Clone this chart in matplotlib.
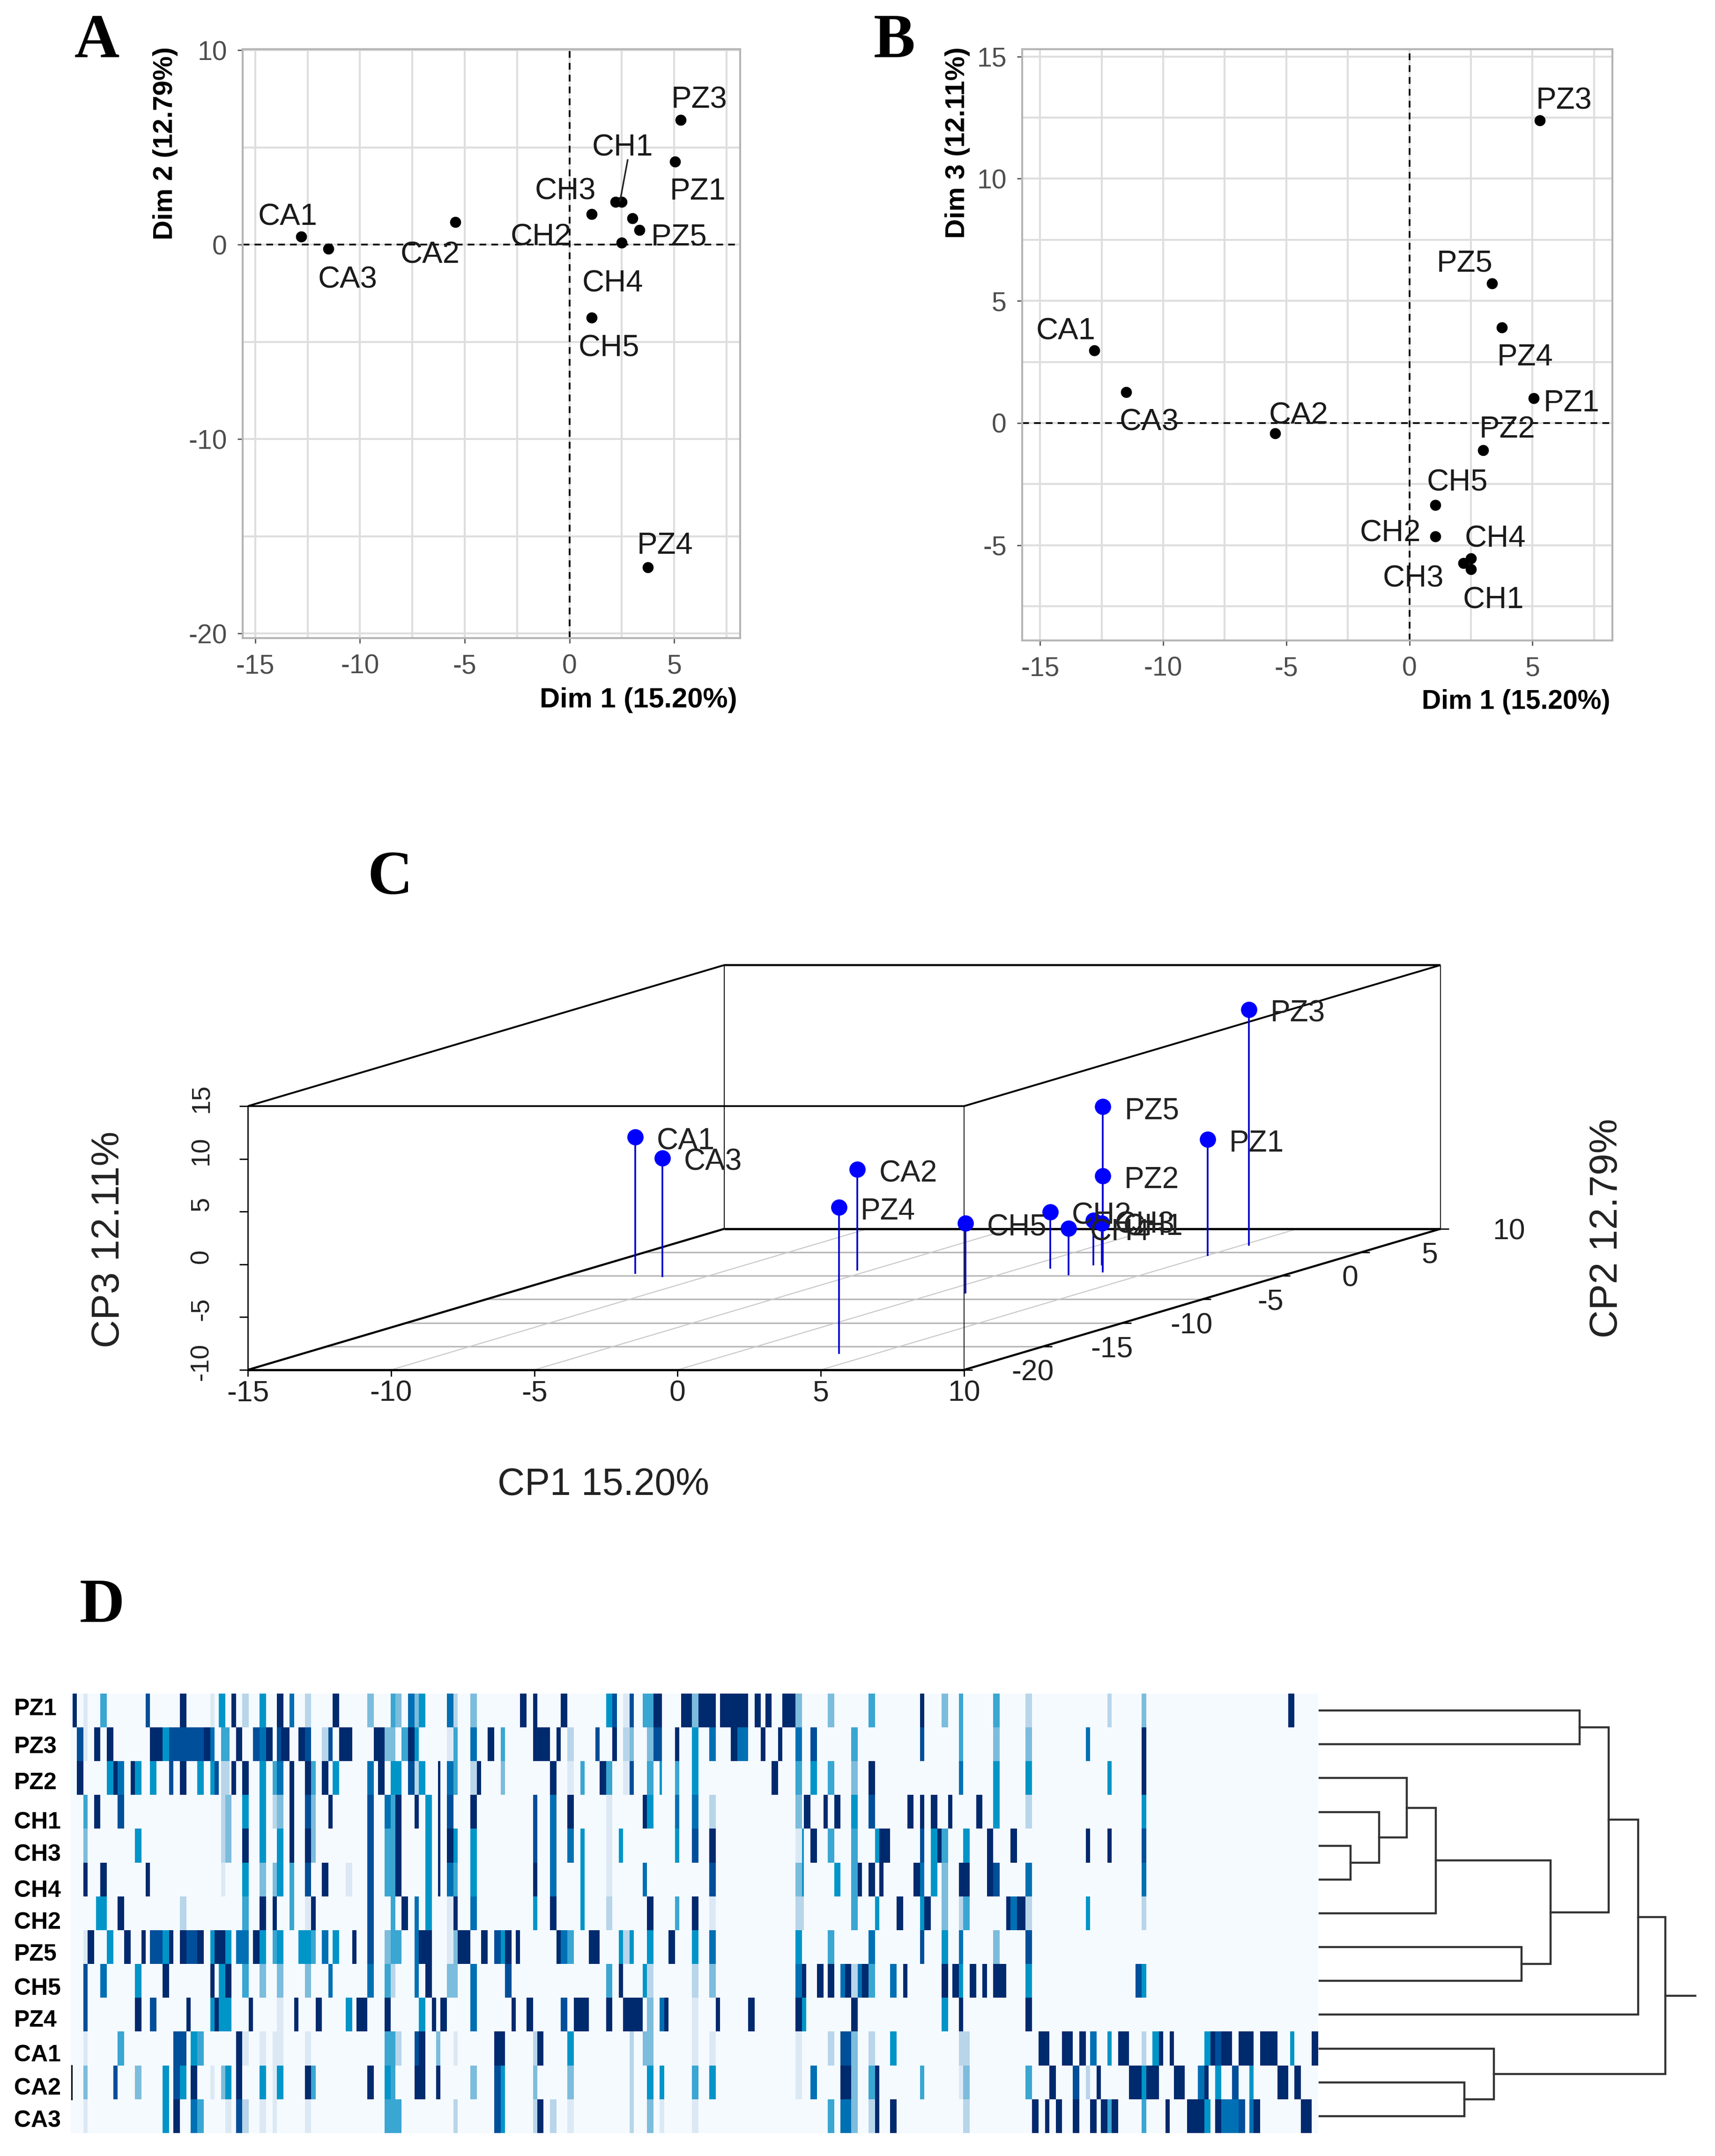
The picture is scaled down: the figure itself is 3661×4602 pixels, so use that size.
import matplotlib

matplotlib.use('agg')
import matplotlib.pyplot as plt
from matplotlib.colors import ListedColormap
import numpy as np

plt.rcParams['font.family'] = ['Liberation Sans', 'DejaVu Sans']
plt.rcParams['axes.unicode_minus'] = False

# samples, same order in every array
SAMPLES = ['CA1', 'CA2', 'CA3', 'CH1', 'CH2', 'CH3', 'CH4', 'CH5',
           'PZ1', 'PZ2', 'PZ3', 'PZ4', 'PZ5']
DIM1 = [-12.8, -5.45, -11.5, 2.5, 1.05, 2.2, 2.5, 1.05, 5.05, 3.0, 5.3, 3.75, 3.35]
DIM2 = [0.42, 1.16, -0.22, 2.2, 1.57, 2.2, 0.1, -3.76, 4.26, 1.35, 6.42, -16.6, 0.74]
DIM3 = [2.97, -0.43, 1.27, -5.99, -4.64, -5.73, -5.54, -3.35, 1.02, -1.12, 12.39, 3.91, 5.71]

LABELS_A = {'CA1': (-13.4, 1.55), 'CA3': (-10.54, -1.67), 'CA2': (-6.6, -0.39),
            'CH2': (-1.32, 0.52), 'CH3': (-0.14, 2.87), 'CH1': (2.58, 5.12),
            'PZ3': (6.23, 7.58), 'PZ1': (6.16, 2.87), 'PZ5': (5.27, 0.52),
            'CH4': (2.1, -1.87), 'CH5': (1.92, -5.19), 'PZ4': (4.6, -15.35)}
LABELS_B = {'PZ3': (6.31, 13.3), 'PZ5': (2.29, 6.65), 'CA1': (-13.92, 3.86),
            'PZ4': (4.74, 2.8), 'PZ1': (6.62, 0.92), 'PZ2': (4.02, -0.16),
            'CA3': (-10.54, 0.14), 'CA2': (-4.47, 0.41), 'CH5': (1.98, -2.33),
            'CH2': (-0.74, -4.4), 'CH4': (3.53, -4.64), 'CH3': (0.19, -6.26),
            'CH1': (3.46, -7.14)}

# heatmap rows: (first column, end column, colour level)
PZ1_CELLS = [(1, 3, 8), (6, 8, 1), (14, 17, 4), (35, 37, 7), (51, 54, 8), (65, 67, 1), (69, 72, 5),
             (75, 77, 8), (80, 83, 2), (88, 91, 5), (96, 99, 8), (102, 104, 6), (109, 112, 2),
             (122, 125, 8), (138, 141, 3), (149, 151, 4), (151, 154, 3), (157, 160, 6), (160, 162, 3),
             (162, 165, 5), (175, 178, 6), (178, 180, 2), (186, 189, 3), (209, 212, 8), (215, 217, 8),
             (228, 231, 8), (249, 252, 5), (252, 254, 7), (257, 260, 1), (260, 262, 7), (266, 271, 4),
             (271, 275, 8), (284, 289, 8), (289, 292, 3), (292, 300, 8), (302, 315, 8), (318, 321, 8),
             (323, 326, 8), (331, 337, 8), (337, 340, 3), (352, 355, 3), (371, 374, 4), (395, 397, 8),
             (405, 408, 3), (413, 415, 4), (429, 432, 4), (444, 447, 2), (482, 484, 2), (498, 500, 3),
             (566, 569, 8)]
PZ3_CELLS = [(3, 6, 7), (6, 8, 1), (11, 14, 8), (17, 20, 8), (37, 43, 8), (43, 46, 5), (46, 62, 7),
             (62, 65, 8), (65, 67, 6), (70, 74, 4), (77, 80, 8), (85, 88, 7), (88, 91, 6), (91, 94, 8),
             (96, 98, 7), (98, 102, 8), (106, 109, 8), (109, 112, 7), (117, 120, 2), (120, 122, 7),
             (125, 131, 8), (141, 146, 8), (146, 151, 3), (154, 157, 4), (157, 160, 8), (160, 162, 5),
             (175, 178, 1), (178, 180, 4), (186, 189, 6), (194, 197, 8), (200, 202, 4), (215, 223, 8),
             (226, 228, 8), (231, 234, 2), (244, 246, 7), (252, 254, 8), (257, 260, 2), (260, 262, 3),
             (268, 271, 3), (271, 275, 7), (281, 283, 8), (289, 292, 5), (297, 300, 6), (307, 310, 8),
             (310, 315, 6), (321, 323, 8), (329, 331, 8), (337, 340, 6), (344, 347, 7), (363, 366, 4),
             (395, 397, 7), (413, 415, 4), (429, 432, 3), (444, 447, 3), (472, 474, 6), (498, 500, 8)]
PZ2_CELLS = [(3, 6, 8), (17, 20, 5), (20, 22, 8), (22, 25, 6), (28, 30, 8), (30, 33, 5), (37, 40, 5),
             (46, 48, 7), (51, 54, 8), (59, 62, 5), (65, 67, 5), (67, 69, 7), (70, 74, 2), (75, 77, 8),
             (80, 83, 8), (88, 91, 5), (94, 96, 4), (96, 99, 6), (102, 104, 8), (109, 112, 8),
             (112, 114, 4), (117, 120, 8), (122, 125, 5), (138, 141, 6), (143, 146, 8), (149, 154, 5),
             (157, 160, 7), (160, 162, 2), (162, 165, 5), (171, 172, 8), (175, 178, 6), (178, 180, 4),
             (186, 189, 2), (189, 191, 8), (200, 202, 3), (223, 226, 8), (231, 234, 1), (237, 239, 4),
             (246, 249, 8), (249, 252, 4), (257, 260, 1), (260, 262, 7), (268, 271, 4), (274, 275, 5),
             (281, 283, 4), (289, 292, 5), (326, 329, 8), (337, 340, 4), (344, 347, 5), (352, 355, 4),
             (363, 366, 3), (371, 374, 8), (413, 415, 6), (429, 432, 5), (444, 447, 5), (482, 484, 5),
             (498, 500, 8)]
CH1_CELLS = [(6, 8, 4), (11, 14, 8), (22, 25, 7), (70, 72, 2), (72, 75, 3), (80, 83, 5), (88, 91, 5),
             (94, 96, 2), (96, 99, 3), (102, 104, 8), (109, 112, 7), (112, 114, 3), (120, 122, 8),
             (138, 141, 7), (146, 149, 6), (149, 151, 4), (151, 154, 8), (160, 162, 8), (165, 168, 5),
             (171, 172, 8), (175, 178, 7), (186, 189, 8), (215, 217, 7), (223, 226, 6), (231, 234, 8),
             (249, 252, 1), (266, 268, 8), (268, 271, 5), (281, 283, 6), (289, 292, 6), (297, 300, 2),
             (337, 340, 3), (341, 344, 8), (350, 352, 8), (355, 358, 8), (363, 366, 5), (371, 374, 7),
             (389, 392, 8), (395, 397, 8), (400, 403, 8), (408, 410, 8), (421, 424, 8), (429, 432, 5),
             (444, 447, 2), (498, 500, 5)]
CH3_CELLS = [(6, 8, 3), (30, 33, 5), (70, 72, 2), (72, 75, 3), (80, 83, 8), (88, 91, 5), (96, 99, 5),
             (102, 104, 8), (109, 112, 8), (112, 114, 3), (138, 141, 7), (146, 151, 4), (151, 154, 8),
             (165, 168, 5), (171, 172, 8), (175, 178, 8), (178, 180, 5), (186, 189, 5), (215, 217, 7),
             (223, 226, 6), (231, 234, 6), (237, 239, 5), (249, 252, 1), (255, 257, 5), (281, 283, 5),
             (289, 292, 7), (297, 300, 8), (337, 340, 1), (340, 341, 5), (344, 347, 8), (352, 355, 4),
             (363, 366, 4), (374, 376, 5), (376, 381, 8), (395, 397, 7), (400, 403, 5), (403, 405, 8),
             (405, 408, 4), (415, 418, 5), (426, 429, 8), (437, 440, 8), (472, 474, 8), (482, 484, 8),
             (498, 500, 7)]
CH4_CELLS = [(6, 8, 8), (14, 17, 8), (35, 37, 8), (70, 72, 1), (80, 83, 5), (88, 91, 3), (94, 96, 3),
             (96, 99, 5), (102, 104, 4), (109, 112, 7), (117, 120, 8), (128, 131, 1), (138, 141, 7),
             (146, 151, 4), (151, 154, 8), (165, 168, 5), (171, 172, 8), (175, 178, 6), (178, 180, 4),
             (186, 189, 5), (215, 217, 8), (223, 226, 6), (237, 239, 5), (249, 252, 1), (266, 268, 6),
             (297, 300, 7), (337, 340, 3), (340, 341, 5), (355, 358, 5), (363, 366, 4), (366, 368, 8),
             (371, 374, 8), (376, 378, 8), (392, 395, 8), (395, 397, 6), (400, 403, 5), (405, 408, 3),
             (413, 418, 8), (426, 429, 8), (429, 432, 7), (444, 447, 6), (498, 500, 6)]
CH2_CELLS = [(12, 17, 5), (22, 25, 8), (51, 54, 2), (80, 83, 4), (88, 91, 8), (94, 96, 8), (102, 104, 4),
             (109, 112, 1), (112, 114, 8), (138, 141, 7), (149, 151, 4), (154, 157, 8), (160, 162, 6),
             (165, 168, 5), (175, 178, 1), (178, 180, 8), (186, 189, 6), (215, 217, 5), (223, 226, 8),
             (237, 239, 5), (249, 252, 2), (268, 271, 8), (281, 283, 4), (289, 292, 8), (297, 300, 1),
             (337, 341, 2), (363, 366, 4), (374, 376, 5), (384, 387, 8), (395, 397, 5), (397, 400, 8),
             (405, 408, 3), (413, 415, 2), (415, 418, 4), (435, 437, 8), (437, 440, 6), (440, 444, 8),
             (444, 447, 2), (472, 474, 5), (498, 500, 2)]
PZ5_CELLS = [(6, 8, 1), (8, 11, 8), (17, 20, 5), (25, 28, 8), (33, 35, 8), (37, 43, 7), (43, 46, 5),
             (46, 48, 8), (51, 54, 8), (54, 59, 7), (59, 62, 8), (65, 67, 5), (67, 72, 8), (72, 75, 5),
             (77, 83, 6), (85, 88, 8), (88, 91, 5), (94, 96, 4), (96, 99, 5), (106, 112, 5), (112, 114, 4),
             (117, 120, 6), (122, 125, 5), (131, 133, 8), (138, 141, 7), (146, 149, 3), (149, 154, 4),
             (160, 162, 6), (162, 168, 8), (175, 178, 1), (178, 180, 3), (180, 186, 8), (191, 194, 8),
             (197, 200, 7), (200, 202, 5), (202, 205, 8), (207, 209, 8), (226, 228, 8), (228, 231, 6),
             (231, 234, 4), (241, 246, 8), (255, 257, 5), (257, 260, 2), (260, 262, 5), (268, 271, 5),
             (278, 281, 8), (289, 292, 5), (297, 300, 6), (337, 340, 5), (352, 355, 4), (371, 374, 6),
             (395, 397, 7), (405, 408, 5), (413, 415, 6), (429, 432, 3), (444, 447, 7)]
CH5_CELLS = [(6, 8, 7), (14, 17, 6), (30, 33, 5), (43, 46, 8), (65, 67, 8), (69, 72, 5), (72, 75, 8),
             (80, 83, 4), (88, 91, 3), (96, 99, 3), (109, 112, 3), (120, 122, 6), (138, 141, 6),
             (146, 149, 4), (149, 151, 2), (160, 162, 6), (165, 168, 8), (175, 180, 3), (186, 189, 6),
             (202, 205, 7), (249, 252, 4), (255, 257, 8), (266, 268, 5), (268, 271, 2), (289, 292, 2),
             (297, 300, 3), (337, 340, 6), (340, 342, 8), (347, 350, 8), (352, 355, 8), (358, 360, 6),
             (360, 363, 8), (363, 366, 2), (366, 368, 6), (368, 371, 8), (371, 374, 4), (381, 384, 6),
             (387, 389, 8), (405, 408, 8), (410, 413, 8), (413, 415, 5), (418, 421, 8), (424, 426, 8),
             (429, 435, 8), (444, 447, 5), (495, 498, 7), (498, 500, 5)]
PZ4_CELLS = [(6, 8, 7), (30, 33, 8), (37, 40, 7), (54, 56, 8), (65, 67, 5), (67, 69, 8), (69, 75, 5),
             (83, 85, 8), (96, 99, 1), (104, 106, 8), (114, 117, 8), (128, 131, 5), (133, 138, 8),
             (146, 149, 8), (162, 165, 5), (168, 170, 8), (172, 175, 8), (186, 189, 6), (205, 207, 8),
             (212, 215, 8), (228, 231, 7), (234, 241, 8), (249, 252, 8), (257, 266, 8), (268, 271, 3),
             (274, 276, 6), (276, 278, 8), (289, 292, 1), (300, 302, 8), (315, 318, 8), (337, 340, 8),
             (340, 342, 5), (363, 366, 8), (405, 408, 5), (413, 415, 8), (444, 447, 8)]
CA1_CELLS = [(6, 8, 1), (22, 25, 4), (48, 54, 7), (56, 59, 5), (59, 62, 4), (77, 80, 8), (80, 83, 1),
             (88, 91, 1), (94, 99, 1), (109, 112, 1), (146, 151, 4), (151, 154, 2), (160, 162, 7),
             (162, 165, 8), (170, 172, 3), (178, 180, 1), (197, 202, 8), (215, 217, 2), (217, 220, 8),
             (231, 234, 5), (260, 262, 2), (266, 271, 3), (289, 292, 1), (297, 300, 1), (337, 340, 1),
             (352, 355, 2), (358, 363, 7), (363, 366, 3), (371, 374, 2), (381, 384, 5), (413, 418, 2),
             (450, 455, 8), (461, 466, 8), (469, 472, 8), (474, 477, 6), (482, 484, 5), (487, 492, 8),
             (498, 500, 2), (503, 506, 5), (506, 508, 8), (511, 513, 8), (527, 530, 5), (530, 532, 8),
             (532, 535, 7), (535, 540, 8), (543, 550, 8), (553, 561, 8), (567, 569, 5), (577, 580, 8)]
CA2_CELLS = [(6, 8, 3), (20, 22, 7), (30, 33, 3), (43, 46, 5), (48, 51, 7), (51, 54, 5), (56, 59, 8),
             (65, 67, 1), (70, 72, 3), (72, 75, 5), (77, 80, 8), (88, 91, 5), (94, 96, 1), (96, 99, 5),
             (109, 112, 8), (112, 114, 4), (138, 141, 8), (146, 149, 5), (149, 151, 4), (160, 165, 8),
             (170, 172, 8), (186, 189, 3), (197, 200, 7), (200, 202, 5), (215, 217, 3), (231, 234, 3),
             (260, 262, 2), (268, 271, 5), (274, 276, 5), (289, 292, 4), (297, 300, 5), (337, 340, 1),
             (344, 347, 6), (358, 363, 8), (363, 366, 3), (371, 374, 4), (374, 376, 8), (395, 397, 4),
             (413, 415, 1), (415, 418, 3), (444, 447, 4), (455, 458, 8), (466, 469, 7), (472, 474, 2),
             (477, 479, 8), (492, 498, 8), (498, 500, 5), (500, 506, 8), (513, 518, 8), (524, 527, 6),
             (527, 529, 8), (532, 535, 5), (540, 543, 7), (548, 550, 5), (561, 566, 8), (569, 572, 8)]
CA3_CELLS = [(6, 8, 1), (43, 46, 5), (48, 51, 8), (56, 59, 6), (59, 62, 4), (72, 75, 1), (77, 80, 7),
             (80, 83, 2), (88, 91, 1), (94, 96, 1), (109, 112, 1), (146, 154, 4), (178, 180, 2),
             (197, 200, 7), (200, 202, 5), (215, 217, 2), (217, 220, 8), (223, 226, 2), (231, 234, 1),
             (260, 262, 2), (268, 271, 3), (274, 276, 1), (289, 292, 1), (352, 355, 4), (358, 363, 6),
             (363, 366, 3), (371, 374, 2), (374, 376, 8), (381, 384, 8), (415, 418, 2), (447, 450, 8),
             (453, 455, 8), (458, 461, 8), (466, 469, 8), (474, 477, 8), (479, 482, 8), (482, 484, 4),
             (484, 487, 8), (498, 500, 4), (509, 511, 8), (519, 527, 8), (527, 530, 5), (532, 535, 8),
             (535, 543, 6), (543, 546, 7), (548, 550, 6), (550, 553, 8), (572, 577, 8)]

HEAT_LABELS = ['PZ1', 'PZ3', 'PZ2', 'CH1', 'CH3', 'CH4', 'CH2', 'PZ5', 'CH5', 'PZ4', 'CA1', 'CA2', 'CA3']
HEAT_ROWS = [PZ1_CELLS, PZ3_CELLS, PZ2_CELLS, CH1_CELLS, CH3_CELLS, CH4_CELLS, CH2_CELLS,
             PZ5_CELLS, CH5_CELLS, PZ4_CELLS, CA1_CELLS, CA2_CELLS, CA3_CELLS]
N_COLS = 580
HEAT_COLOURS = ['#F5FAFF', '#DCE9F5', '#B8D5EA', '#7CBCDC', '#3AA6D2',
                '#0095C8', '#0070B4', '#004F9A', '#002A6E']

# dendrogram merges on the rows above: (left node, right node, height).
# nodes 0-12 are the rows, each merge makes the next node
MERGES = [(0, 1, 8.20), (4, 5, 0.97), (3, 14, 1.87), (2, 15, 2.75), (16, 6, 3.66), (7, 8, 6.37),
          (17, 18, 7.28), (13, 19, 9.12), (20, 9, 10.05), (11, 12, 4.57), (10, 22, 5.50), (21, 23, 10.90)]
ROOT_STUB = 11.85

W, H = 3661, 4602
fig = plt.figure(figsize=(W / 100, H / 100), dpi=100)
fig.patch.set_facecolor('white')


def axes_px(left, top, right, bottom):
    return fig.add_axes([left / W, 1 - bottom / H, (right - left) / W, (bottom - top) / H])


# page level axes in pixels, for the loose text
page = fig.add_axes([0, 0, 1, 1], zorder=5)
page.set_xlim(0, W)
page.set_ylim(H, 0)
page.axis('off')
page.patch.set_alpha(0)


def factor_map(ax, yvals, xlim, ylim, xmajor, ymajor, xminor, yminor, labels):
    ax.set_xlim(*xlim)
    ax.set_ylim(*ylim)
    ax.set_xticks(xmajor)
    ax.set_yticks(ymajor)
    ax.set_xticks(xminor, minor=True)
    ax.set_yticks(yminor, minor=True)
    ax.grid(which='both', color='#DEDEDE', lw=3.0)
    ax.set_axisbelow(True)
    ax.tick_params(which='minor', length=0)
    ax.tick_params(which='major', length=8, width=2, color='#555555', labelcolor='#4D4D4D',
                   labelsize=41, pad=16)
    for s in ax.spines.values():
        s.set_color('#B5B5B5')
        s.set_linewidth(3.0)
    ax.axhline(0, color='black', lw=2.6, ls=(0, (4, 3)))
    ax.axvline(0, color='black', lw=2.6, ls=(0, (4, 3)))
    ax.plot(DIM1, yvals, 'o', color='black', ms=17, mec='none')
    for name, (tx, ty) in labels.items():
        ax.annotate(name, (tx, ty), xytext=(-2, -6), textcoords='offset pixels', fontsize=47,
                    color='#1A1A1A', ha='center', va='center')


ax_a = axes_px(518, 105, 1580, 1362)
factor_map(ax_a, DIM2, (-15.6, 8.15), (-20.24, 10.05), [-15, -10, -5, 0, 5], [-20, -10, 0, 10],
           np.arange(-12.5, 8, 5), [-15, -5, 5], LABELS_A)
ax_a.plot([2.78, 2.42], [4.35, 2.26], color='#222222', lw=2.4)

ax_b = axes_px(2182, 105, 3442, 1367)
factor_map(ax_b, DIM3, (-15.73, 8.25), (-8.9, 15.3), [-15, -10, -5, 0, 5], [-5, 0, 5, 10, 15],
           np.arange(-12.5, 8, 5), [-7.5, -2.5, 2.5, 7.5, 12.5], LABELS_B)

page.text(1574, 1494, 'Dim 1 (15.20%)', fontsize=43, fontweight='bold', ha='right', va='center')
page.text(353, 100, 'Dim 2 (12.79%)', fontsize=42, fontweight='bold', rotation=90, ha='center', va='top')
page.text(3437, 1498, 'Dim 1 (15.20%)', fontsize=41, fontweight='bold', ha='right', va='center')
page.text(2044, 100, 'Dim 3 (12.11%)', fontsize=42, fontweight='bold', rotation=90, ha='center', va='top')

# panel letters
for letter, lx, ly in [('A', 159, 122), ('B', 1865, 122), ('C', 785, 1908), ('D', 170, 3462)]:
    page.text(lx, ly, letter, fontsize=96, fontweight='bold', family='Liberation Serif',
              ha='left', va='baseline')

# panel C, oblique box like scatterplot3d
CP1_RANGE = (-15, 10)
CP2_RANGE = (-20, 10)
CP3_RANGE = (-10, 15)
DEPTH_X = 0.5543
DEPTH_Y = 0.4456


def obl(cp1, cp2, cp3):
    d = np.asarray(cp2, dtype=float) - CP2_RANGE[0]
    return np.asarray(cp1, dtype=float) + DEPTH_X * d, np.asarray(cp3, dtype=float) + DEPTH_Y * d


ax_c = axes_px(529, 2060, 3075, 2924)
ax_c.set_xlim(CP1_RANGE[0], CP1_RANGE[1] + DEPTH_X * 30)
ax_c.set_ylim(CP3_RANGE[0], CP3_RANGE[1] + DEPTH_Y * 30)
ax_c.axis('off')


def edge(p, q, lw, color='black'):
    xs, ys = obl([p[0], q[0]], [p[1], q[1]], [p[2], q[2]])
    ax_c.plot(xs, ys, color=color, lw=lw, clip_on=False, solid_capstyle='butt')


for cp2 in range(-15, 10, 5):
    edge((-15, cp2, -10), (10, cp2, -10), 2.4, '#B8B8B8')
for cp1 in range(-10, 10, 5):
    edge((cp1, -20, -10), (cp1, 10, -10), 1.6, '#C8C8C8')

edge((-15, -20, -10), (10, -20, -10), 3.4)
edge((-15, 10, -10), (10, 10, -10), 3.4)
edge((-15, -20, 15), (10, -20, 15), 2.6)
edge((-15, 10, 15), (10, 10, 15), 3.2)
for cp1 in CP1_RANGE:
    edge((cp1, -20, -10), (cp1, 10, -10), 3.2)
    edge((cp1, -20, 15), (cp1, 10, 15), 2.8)
edge((-15, -20, -10), (-15, -20, 15), 2.0)
edge((10, -20, -10), (10, -20, 15), 1.4)
edge((-15, 10, -10), (-15, 10, 15), 1.4)
edge((10, 10, -10), (10, 10, 15), 1.4)

# ticks and their labels
for v in range(-15, 15, 5):
    edge((v, -20, -10), (v, -20, -10.6), 2)
    tx, ty = obl(v, -20, -10)
    ax_c.annotate(str(v), (tx, ty), xytext=(0, -50), textcoords='offset pixels', fontsize=45,
                  color='#222222', ha='center', va='center', annotation_clip=False)
for v in range(-10, 20, 5):
    edge((-15, -20, v), (-15.3, -20, v), 2)
    tx, ty = obl(-15, -20, v)
    ax_c.annotate(str(v), (tx, ty), xytext=(-99, 17), textcoords='offset pixels', fontsize=40,
                  color='#222222', rotation=90, ha='center', va='center', annotation_clip=False)
for v in range(-20, 15, 5):
    edge((10, v, -10), (10.3, v, -10), 2)
    tx, ty = obl(10, v, -10)
    ax_c.annotate(str(v), (tx, ty), xytext=(146, -6), textcoords='offset pixels', fontsize=45,
                  color='#222222', ha='center', va='center', annotation_clip=False)

# points on their stems
base_x, base_y = obl(DIM1, DIM2, [CP3_RANGE[0]] * len(DIM1))
top_x, top_y = obl(DIM1, DIM2, DIM3)
ax_c.vlines(top_x, base_y, top_y, color='#0000CD', lw=2.6, clip_on=False, zorder=3)
ax_c.plot(top_x, top_y, 'o', color='#0000FF', ms=25, mec='none', clip_on=False, zorder=4)
for name, tx, ty in zip(SAMPLES, top_x, top_y):
    ax_c.annotate(name, (tx, ty), xytext=(46, -9), textcoords='offset pixels', fontsize=46,
                  color='#222222', ha='left', va='center', annotation_clip=False, zorder=5)

page.text(1288, 3170, 'CP1 15.20%', fontsize=58, color='#222222', ha='center', va='center')
page.text(232, 2646, 'CP3 12.11%', fontsize=60, color='#222222', rotation=90, ha='center', va='center')
page.text(3430, 2622, 'CP2 12.79%', fontsize=60, color='#222222', rotation=90, ha='center', va='center')

# panel D heatmap
matrix = np.zeros((len(HEAT_ROWS), N_COLS), dtype=int)
for i, row in enumerate(HEAT_ROWS):
    for start, stop, level in row:
        matrix[i, start:stop] = level

ax_d = axes_px(150, 3615, 2814, 4553)
ax_d.imshow(matrix, cmap=ListedColormap(HEAT_COLOURS), vmin=0, vmax=len(HEAT_COLOURS) - 1,
            aspect='auto', interpolation='nearest')
ax_d.axis('off')

ROW_LABEL_Y = [3648, 3729, 3806, 3890, 3959, 4036, 4104, 4172, 4245, 4313, 4387, 4458, 4527]
for name, ly in zip(HEAT_LABELS, ROW_LABEL_Y):
    page.text(30, ly, name, fontsize=36, fontweight='bold', ha='left', va='center')
page.plot([153, 153], [4409, 4481], color='black', lw=2.2)

# dendrogram
ax_t = axes_px(2817, 3615, 3619, 4553)
ax_t.set_xlim(0, ROOT_STUB)
ax_t.set_ylim(len(HEAT_LABELS) - 0.5, -0.5)
ax_t.axis('off')
node_y = list(range(len(HEAT_LABELS)))
node_h = [0.0] * len(HEAT_LABELS)
for a, b, h in MERGES:
    ax_t.plot([node_h[a], h, h, node_h[b]], [node_y[a], node_y[a], node_y[b], node_y[b]],
              color='#333333', lw=3.2, clip_on=False, solid_joinstyle='miter')
    node_y.append((node_y[a] + node_y[b]) / 2)
    node_h.append(h)
ax_t.plot([node_h[-1], ROOT_STUB], [node_y[-1], node_y[-1]], color='#333333', lw=3.2, clip_on=False)

fig.savefig('out.png', dpi=100, facecolor='white')
plt.close('all')
